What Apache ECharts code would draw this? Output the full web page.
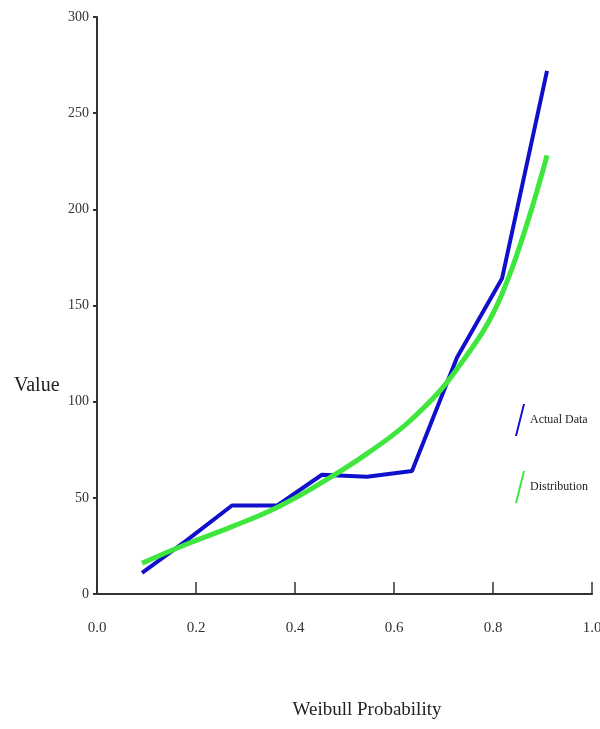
<!DOCTYPE html>
<html>
<head>
<meta charset="utf-8">
<script src="https://cdn.jsdelivr.net/npm/echarts@6/dist/echarts.min.js"></script>
<style>html,body{margin:0;padding:0;background:#fff}#c{width:600px;height:729px}</style>
</head>
<body>
<div id="c"></div>
<script>
const probs = [0.0909, 0.1818, 0.2727, 0.3636, 0.4545, 0.5455, 0.6364, 0.7273, 0.8182, 0.9091];
const actualData = [11, 28, 46, 46, 62, 61, 64, 123, 164, 272];
const distribution = [16, 26, 35, 45, 58, 73, 91, 117, 156, 228];
const seriesNames = ['Actual Data', 'Distribution'];
const xAxisTitle = 'Weibull Probability';
const yAxisTitle = 'Value';

const font = 'Liberation Serif, Times New Roman, serif';
const chart = echarts.init(document.getElementById('c'), null, {renderer: 'canvas'});
const slash = 'path://M8,0 L10,0 L2,32 L0,32 Z';
chart.setOption({
  animation: false,
  backgroundColor: '#fff',
  title: [
    {text: yAxisTitle, left: 9, top: 371, textStyle: {fontFamily: font, fontSize: 20, fontWeight: 'normal', color: '#222'}},
    {text: xAxisTitle, left: 362, top: 696, textAlign: 'center', textStyle: {fontFamily: font, fontSize: 19, fontWeight: 'normal', color: '#222'}}
  ],
  grid: {left: 97, right: 8, top: 17, bottom: 135, containLabel: false, outerBoundsMode: 'none'},
  legend: {
    orient: 'vertical', left: 510, top: 399, itemGap: 35,
    itemWidth: 10, itemHeight: 32,
    textStyle: {fontFamily: font, fontSize: 12, color: '#222'},
    data: [{name: seriesNames[0], icon: slash}, {name: seriesNames[1], icon: slash}]
  },
  xAxis: {
    type: 'value', min: 0, max: 1, interval: 0.2,
    axisLine: {show: true, lineStyle: {color: '#333', width: 2}},
    axisTick: {show: true, inside: true, length: 12, lineStyle: {color: '#333', width: 1.5}},
    splitLine: {show: false},
    axisLabel: {formatter: v => v.toFixed(1), margin: 27, fontFamily: font, fontSize: 15, color: '#333'}
  },
  yAxis: {
    type: 'value', min: 0, max: 300, interval: 50,
    axisLine: {show: true, lineStyle: {color: '#333', width: 2}},
    axisTick: {show: true, length: 4, lineStyle: {color: '#333', width: 2}},
    splitLine: {show: false},
    axisLabel: {margin: 8, fontFamily: font, fontSize: 14, color: '#333'}
  },
  series: [
    {name: seriesNames[0], type: 'line', showSymbol: false,
     data: probs.map((p, i) => [p, actualData[i]]),
     itemStyle: {color: '#1010cc'},
     lineStyle: {color: '#1010cc', width: 4}},
    {name: seriesNames[1], type: 'line', showSymbol: false, smooth: 0.4,
     data: probs.map((p, i) => [p, distribution[i]]),
     itemStyle: {color: '#3ee63e'},
     lineStyle: {color: '#3ee63e', width: 5}}
  ]
});
</script>
</body>
</html>
